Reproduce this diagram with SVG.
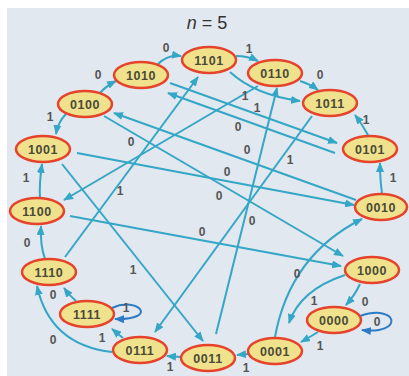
<svg xmlns="http://www.w3.org/2000/svg" width="409" height="376" viewBox="0 0 409 376">
  <defs>
    <marker id="arr" markerUnits="userSpaceOnUse" markerWidth="10" markerHeight="8" refX="9" refY="4" orient="auto">
      <path d="M0,0 L10,4 L0,8 z" fill="#34a6c6"/>
    </marker>
    <marker id="arrDark" markerUnits="userSpaceOnUse" markerWidth="10" markerHeight="8" refX="9" refY="4" orient="auto">
      <path d="M0,0 L10,4 L0,8 z" fill="#2b7cc4"/>
    </marker>
  </defs>
  <style>
    .edge { fill: none; stroke: #34a6c6; stroke-width: 2; marker-end: url(#arr); }
    .loop { fill: none; stroke: #2b7cc4; stroke-width: 2; marker-end: url(#arrDark); }
    .lbl { font-family: "Liberation Sans", Arial, sans-serif; font-size: 12px; font-weight: bold; fill: #555555; text-anchor: middle; }
    .node ellipse { fill: #f0e28c; stroke: #e5432b; stroke-width: 2.5; }
    .node text { font-family: "Liberation Sans", Arial, sans-serif; font-size: 12.5px; font-weight: bold; fill: #4a4a36; text-anchor: middle; letter-spacing: 0.6px; }
  </style>

  <!-- backdrop -->
  <rect x="0" y="0" width="409" height="376" fill="#ffffff"/>
  <rect x="7" y="8" width="402" height="368" fill="#e2e8ef"/>

  <text x="207" y="29" font-family="'Liberation Sans', Arial, sans-serif" font-size="18" fill="#333333" text-anchor="middle"><tspan font-style="italic">n</tspan> = 5</text>

  <g id="edges">
    <!-- outer ring -->
    <path class="edge" d="M158,64 Q168,54 181,56"/>
    <path class="edge" d="M236,56 Q248,56 258,61"/>
    <path class="edge" d="M300,81 Q310,84 318,90"/>
    <path class="edge" d="M100,93 Q106,86 116,81"/>
    <path class="edge" d="M66,114 Q58,122 56,134"/>
    <path class="edge" d="M40,198 Q39,185 42,164"/>
    <path class="edge" d="M45,259 Q40,245 41,226"/>
    <path class="edge" d="M76,301 Q70,296 64,288"/>
    <path class="edge" d="M112,352 Q50,345 37,286"/>
    <path class="edge" d="M123,338 Q118,334 112,329"/>
    <path class="loop" d="M112,308 C138,296 160,320 115,319"/>
    <path class="edge" d="M181,357 L167,356"/>
    <path class="edge" d="M248,354 L237,355"/>
    <path class="edge" d="M318,332 Q310,337 301,342"/>
    <path class="loop" d="M360,316 C398,303 405,335 362,330"/>
    <path class="edge" d="M360,284 Q355,295 346,305"/>
    <path class="edge" d="M345,275 Q300,290 289,323"/>
    <path class="edge" d="M275,337 Q290,255 362,219"/>
    <path class="edge" d="M382,193 Q380,180 380,163"/>
    <path class="edge" d="M368,135 Q362,124 355,115"/>
    <!-- chords -->
    <path class="edge" d="M230,72 Q255,95 300,101"/>
    <path class="edge" d="M170,83 L337,143"/>
    <path class="edge" d="M335,153 L168,93"/>
    <path class="edge" d="M356,200 L114,113"/>
    <path class="edge" d="M77,153 L354,205"/>
    <path class="edge" d="M104,116 L343,256"/>
    <path class="edge" d="M70,216 L341,266"/>
    <path class="edge" d="M62,164 L203,341"/>
    <path class="edge" d="M65,257 L198,77"/>
    <path class="edge" d="M258,86 L64,200"/>
    <path class="edge" d="M216,334 L277,88"/>
    <path class="edge" d="M312,116 L155,332"/>
  </g>

  <g id="edge-labels">
    <text class="lbl" x="166" y="52">0</text>
    <text class="lbl" x="249" y="53">1</text>
    <text class="lbl" x="320" y="79">0</text>
    <text class="lbl" x="98" y="79">0</text>
    <text class="lbl" x="50" y="121">1</text>
    <text class="lbl" x="26" y="182">1</text>
    <text class="lbl" x="27" y="247">0</text>
    <text class="lbl" x="53" y="299">0</text>
    <text class="lbl" x="53" y="344">0</text>
    <text class="lbl" x="102" y="342">1</text>
    <text class="lbl" x="126" y="312">1</text>
    <text class="lbl" x="170" y="371">1</text>
    <text class="lbl" x="246" y="372">1</text>
    <text class="lbl" x="320" y="350">1</text>
    <text class="lbl" x="377" y="326">0</text>
    <text class="lbl" x="365" y="306">0</text>
    <text class="lbl" x="314" y="305">1</text>
    <text class="lbl" x="297" y="278">0</text>
    <text class="lbl" x="393" y="182">1</text>
    <text class="lbl" x="366" y="124">1</text>
    <text class="lbl" x="245" y="100">1</text>
    <text class="lbl" x="257" y="112">1</text>
    <text class="lbl" x="238" y="131">0</text>
    <text class="lbl" x="247" y="154">0</text>
    <text class="lbl" x="290" y="164">1</text>
    <text class="lbl" x="227" y="176">0</text>
    <text class="lbl" x="219" y="200">0</text>
    <text class="lbl" x="252" y="225">0</text>
    <text class="lbl" x="202" y="236">0</text>
    <text class="lbl" x="120" y="195">1</text>
    <text class="lbl" x="133" y="274">1</text>
    <text class="lbl" x="131" y="146">0</text>
  </g>

  <g id="n1101" class="node"><ellipse cx="209" cy="60" rx="27" ry="13"/><text x="209" y="64.5">1101</text></g>
  <g id="n1010" class="node"><ellipse cx="141" cy="75" rx="27" ry="13"/><text x="141" y="79.5">1010</text></g>
  <g id="n0110" class="node"><ellipse cx="275" cy="73" rx="27" ry="13"/><text x="275" y="77.5">0110</text></g>
  <g id="n0100" class="node"><ellipse cx="85" cy="104" rx="27" ry="13"/><text x="85" y="108.5">0100</text></g>
  <g id="n1011" class="node"><ellipse cx="330" cy="103" rx="27" ry="13"/><text x="330" y="107.5">1011</text></g>
  <g id="n1001" class="node"><ellipse cx="43" cy="149" rx="27" ry="13"/><text x="43" y="153.5">1001</text></g>
  <g id="n0101" class="node"><ellipse cx="370" cy="149" rx="27" ry="13"/><text x="370" y="153.5">0101</text></g>
  <g id="n1100" class="node"><ellipse cx="37" cy="211" rx="27" ry="13"/><text x="37" y="215.5">1100</text></g>
  <g id="n0010" class="node"><ellipse cx="381" cy="207" rx="26" ry="13"/><text x="381" y="211.5">0010</text></g>
  <g id="n1110" class="node"><ellipse cx="49" cy="272" rx="27" ry="13"/><text x="49" y="276.5">1110</text></g>
  <g id="n1000" class="node"><ellipse cx="372" cy="270" rx="27" ry="13"/><text x="372" y="274.5">1000</text></g>
  <g id="n1111" class="node"><ellipse cx="87" cy="314" rx="27" ry="13"/><text x="87" y="318.5">1111</text></g>
  <g id="n0000" class="node"><ellipse cx="334" cy="320" rx="27" ry="13"/><text x="334" y="324.5">0000</text></g>
  <g id="n0111" class="node"><ellipse cx="140" cy="350" rx="27" ry="13"/><text x="140" y="354.5">0111</text></g>
  <g id="n0011" class="node"><ellipse cx="208" cy="358" rx="27" ry="13"/><text x="208" y="362.5">0011</text></g>
  <g id="n0001" class="node"><ellipse cx="275" cy="351" rx="27" ry="13"/><text x="275" y="355.5">0001</text></g>
</svg>
